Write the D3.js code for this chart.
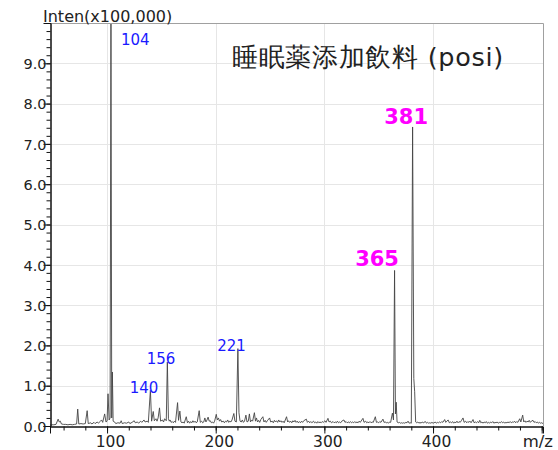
<!DOCTYPE html>
<html>
<head>
<meta charset="utf-8">
<script src="https://cdn.jsdelivr.net/npm/d3@7"></script>
<style>
  body { margin: 0; background: #fff; }
  text { font-family: "DejaVu Sans", Verdana, sans-serif; }
</style>
</head>
<body>
<script>
// profile of the spectrum, [m/z, intensity x100,000]
const spectrum = [
  [47.5,0.02],[49,0.03],[51,0.03],[53,0.04],[55,0.17],[56,0.1],[57,0.12],[58,0.05],[60,0.04],[62,0.04],
  [64,0.03],[66,0.04],[68,0.03],[70,0.04],[72,0.05],[73,0.42],[74,0.05],[76,0.06],[78,0.05],[80,0.06],
  [81.7,0.38],[82.7,0.06],[85,0.08],[86,0.05],[88,0.09],[89,0.06],[91,0.1],[92,0.07],[94,0.12],[95,0.15],
  [96,0.09],[97.8,0.3],[99,0.1],[100,0.12],[100.9,0.8],[101.9,0.15],[102.8,0.2],[103.6,10.4],[104.3,0.2],[104.9,1.34],
  [105.6,0.12],[107,0.1],[108,0.06],[110,0.08],[112,0.07],[113,0.13],[114,0.06],[116,0.08],[118,0.07],[120,0.1],
  [121,0.06],[123,0.09],[125,0.13],[126,0.08],[128,0.1],[129,0.07],[131,0.12],[132,0.09],[134,0.15],[135,0.1],
  [137,0.12],[138,0.09],[139.9,0.89],[141,0.12],[142.5,0.36],[143.5,0.13],[145,0.18],[146,0.12],[147,0.2],[148.3,0.45],
  [149.3,0.12],[151,0.15],[152,0.1],[153,0.18],[154.5,0.13],[155.5,1.59],[156.5,0.18],[157.3,0.12],[158,0.15],[159,0.09],
  [160,0.11],[161,0.08],[162,0.12],[163,0.09],[164.9,0.58],[165.8,0.14],[167,0.37],[168,0.1],[169,0.08],[170,0.1],
  [171,0.07],[172.9,0.23],[174,0.08],[175,0.12],[176,0.07],[177,0.11],[178,0.08],[179,0.13],[180,0.09],[181,0.12],
  [182,0.08],[183,0.1],[184.8,0.38],[185.8,0.09],[187,0.12],[188,0.08],[189,0.1],[190,0.2],[191,0.1],[192,0.15],
  [193,0.22],[194,0.12],[195,0.13],[196,0.08],[197,0.1],[198,0.07],[199,0.12],[200.5,0.29],[201.5,0.15],[202.5,0.2],
  [203.5,0.12],[204.5,0.16],[205.5,0.1],[207,0.12],[208,0.08],[209,0.12],[210,0.1],[211,0.15],[212,0.09],[213,0.12],
  [214,0.1],[215,0.15],[216.7,0.31],[217.7,0.12],[219,0.1],[220.4,1.92],[221.4,0.33],[222.4,0.12],[223.5,0.1],[224.5,0.15],
  [225.5,0.09],[226.5,0.12],[227.8,0.27],[228.8,0.1],[230,0.12],[231,0.3],[232,0.1],[233,0.15],[234,0.12],[235.6,0.33],
  [236.6,0.12],[237.5,0.2],[238.5,0.1],[239.5,0.14],[240.5,0.09],[241.5,0.16],[243.4,0.23],[244.4,0.1],[245.5,0.14],[246.5,0.09],
  [247.5,0.13],[249.6,0.2],[250.6,0.1],[252,0.12],[253,0.08],[254,0.14],[255,0.1],[256,0.13],[257,0.09],[258,0.15],
  [259,0.1],[260,0.13],[261,0.09],[262,0.12],[263,0.08],[265.2,0.23],[266.2,0.1],[267,0.13],[268,0.09],[269,0.12],
  [270,0.08],[271,0.13],[272,0.1],[273,0.14],[274,0.09],[275,0.12],[276,0.08],[277,0.11],[278,0.08],[279,0.12],
  [280,0.09],[281,0.13],[283.4,0.17],[284.4,0.09],[285.5,0.12],[286.5,0.08],[287.5,0.11],[288.5,0.08],[290,0.12],[291,0.08],
  [292,0.1],[293,0.07],[294,0.11],[295,0.08],[296,0.1],[297,0.08],[298,0.11],[299,0.09],[300.5,0.13],[301.5,0.09],
  [303.3,0.19],[304.3,0.1],[305.5,0.12],[306.5,0.08],[308,0.11],[309,0.08],[310,0.1],[311,0.08],[312,0.12],[313,0.08],
  [314,0.1],[315,0.08],[316,0.12],[318,0.15],[319,0.09],[320,0.11],[321,0.08],[322,0.1],[323,0.08],[324,0.11],
  [325,0.08],[326,0.1],[327,0.08],[328,0.11],[329,0.08],[330,0.1],[331,0.08],[332,0.12],[333,0.09],[335.5,0.19],
  [336.5,0.09],[338,0.12],[339,0.08],[340,0.1],[341,0.08],[342,0.11],[343,0.08],[344,0.1],[345,0.09],[346.9,0.23],
  [347.9,0.09],[349,0.1],[350,0.08],[351,0.11],[352,0.09],[353.9,0.17],[354.9,0.09],[356,0.1],[357,0.08],[358,0.09],
  [359,0.07],[360,0.1],[361,0.09],[362.6,0.32],[363.6,0.15],[364.6,3.86],[365.4,0.3],[366.1,0.59],[366.9,0.1],[368,0.08],
  [369,0.09],[370,0.07],[371,0.08],[372,0.07],[373,0.08],[374,0.07],[375,0.09],[376,0.08],[377,0.12],[378,0.07],
  [379,0.08],[380,0.07],[381.2,7.42],[382.3,1.18],[383.1,0.85],[384,0.1],[385,0.08],[386,0.1],[387,0.07],[388,0.09],
  [389,0.07],[390,0.1],[391,0.08],[393,0.11],[394,0.07],[395,0.09],[396,0.07],[397,0.08],[398,0.07],[399,0.09],
  [400,0.07],[401,0.08],[402,0.1],[403,0.07],[404,0.09],[405,0.08],[406,0.1],[407,0.08],[408,0.11],[409,0.09],
  [410.7,0.16],[411.7,0.09],[412.7,0.12],[413.9,0.15],[415,0.08],[416,0.1],[417,0.08],[418,0.11],[419,0.07],[420,0.1],
  [421,0.08],[422,0.12],[423,0.08],[424,0.11],[425,0.09],[426,0.13],[427.6,0.2],[428.6,0.09],[430,0.12],[431,0.08],
  [432,0.11],[433,0.09],[434,0.12],[435,0.08],[436.8,0.16],[437.8,0.08],[439,0.1],[440,0.08],[441,0.11],[442,0.08],
  [443,0.14],[444,0.08],[445,0.1],[446,0.07],[447,0.1],[448,0.08],[449,0.11],[450,0.07],[451,0.09],[452,0.07],
  [453,0.1],[454,0.08],[455,0.11],[456,0.07],[457,0.09],[458,0.08],[459,0.1],[460,0.07],[461,0.09],[462,0.08],
  [463,0.11],[464,0.08],[465,0.1],[466,0.07],[467,0.09],[468,0.08],[469,0.1],[470,0.08],[471,0.11],[472,0.08],
  [473,0.1],[474,0.09],[475,0.12],[476,0.08],[477,0.11],[478,0.09],[479.8,0.18],[480.8,0.1],[482.5,0.27],[483.5,0.1],
  [484.5,0.13],[485.5,0.09],[486.5,0.12],[487.5,0.1],[488.5,0.14],[489.5,0.09],[490.5,0.12],[492,0.14],[493,0.09],[494,0.11],
  [495,0.08],[496,0.1],[497,0.07],[498,0.09],[499,0.07],[500,0.08],[501.2,0.06]
];

// annotated peaks
const labelMz    = [103.6, 139.9, 155.5, 220.4, 364.6, 381.2];
const labelText  = ["104", "140", "156", "221", "365", "381"];
const labelMajor = [false, false, false, false, true, true];

const xMajor = [100, 200, 300, 400, 500];
const xMinor = d3.range(60, 501, 20);
const yMajor = d3.range(0, 10, 1);
const yMinor = d3.range(0, 9.9, 0.2);

const title = "睡眠薬添加飲料 (posi)";
const yTitle = "Inten(x100,000)";
const xTitle = "m/z";

const W = 558, H = 450;
const pLeft = 50, pRight = 543, pTop = 23, pBottom = 426;

let svg = d3.select("body").append("svg")
    .attr("width", W)
    .attr("height", H);

let x = d3.scaleLinear().domain([47.5, 501.2]).range([pLeft, pRight]);
let y = d3.scaleLinear().domain([0, 10]).range([pBottom, pTop]);

// grid
svg.append("g")
  .selectAll("line")
  .data(xMajor.filter(d => d < 500))
  .enter().append("line")
    .attr("x1", d => Math.round(x(d)) + 0.5).attr("x2", d => Math.round(x(d)) + 0.5)
    .attr("y1", pTop).attr("y2", pBottom)
    .attr("stroke", "#e6e6e6");

svg.append("g")
  .selectAll("line")
  .data(yMajor.filter(d => d > 0))
  .enter().append("line")
    .attr("x1", pLeft).attr("x2", pRight)
    .attr("y1", d => Math.round(y(d)) + 0.5).attr("y2", d => Math.round(y(d)) + 0.5)
    .attr("stroke", "#e6e6e6");

// frame (top / right grey)
svg.append("path")
  .attr("d", `M${pLeft},${pTop + 0.5}H${pRight + 0.5}V${pBottom}`)
  .attr("fill", "none")
  .attr("stroke", "#a0a0a0");

svg.append("clipPath").attr("id", "plot")
  .append("rect")
    .attr("x", pLeft).attr("y", pTop + 1)
    .attr("width", pRight - pLeft).attr("height", pBottom - pTop);

let line = d3.line()
    .x(d => x(d[0]))
    .y(d => y(d[1]));

svg.append("path")
  .datum(spectrum)
  .attr("clip-path", "url(#plot)")
  .attr("fill", "none")
  .attr("stroke", "#444")
  .attr("stroke-width", 0.9)
  .attr("d", line);

// axes
let fmt = d3.format(".1f");

let yAxis = svg.append("g")
    .attr("transform", `translate(${pLeft + 0.5},0)`)
    .call(d3.axisLeft(y).tickValues(yMajor).tickSize(7).tickFormat(fmt));
svg.append("g")
    .attr("transform", `translate(${pLeft + 0.5},0)`)
    .call(d3.axisLeft(y).tickValues(yMinor).tickSize(4).tickFormat(""));

let xAxis = svg.append("g")
    .attr("transform", `translate(0,${pBottom + 0.5})`)
    .call(d3.axisBottom(x).tickValues(xMajor).tickSize(7)
      .tickFormat(d => d === 500 ? "" : d));
svg.append("g")
    .attr("transform", `translate(0,${pBottom + 0.5})`)
    .call(d3.axisBottom(x).tickValues(xMinor).tickSize(4).tickFormat(""));

svg.selectAll(".domain").attr("stroke", "#111");
svg.selectAll(".tick line").attr("stroke", "#111");

yAxis.selectAll("text")
  .attr("x", -4)
  .attr("dy", "0.36em")
  .attr("font-size", 14.5)
  .attr("font-family", "DejaVu Sans")
  .attr("fill", "#222");

xAxis.selectAll("text")
  .attr("dx", 3)
  .attr("y", 9)
  .attr("dy", "0.71em")
  .attr("font-size", 15.5)
  .attr("font-family", "DejaVu Sans")
  .attr("fill", "#222");

svg.append("text")
  .attr("x", 43).attr("y", 22)
  .attr("font-size", 16)
  .attr("fill", "#222")
  .text(yTitle);

svg.append("text")
  .attr("x", 553).attr("y", 447)
  .attr("text-anchor", "end")
  .attr("font-size", 16.5)
  .attr("fill", "#222")
  .text(xTitle);

svg.append("text")
  .attr("x", 232).attr("y", 66)
  .attr("font-family", "'Noto Sans CJK JP', sans-serif")
  .attr("font-size", 25.5)
  .attr("letter-spacing", 0.7)
  .attr("fill", "#222")
  .text(title);

// peak labels; offsets picked to sit where the instrument software put them
const labelDx = [10, 8, 8, 8, -17.5, -6.5];
const labelDy = [0, 3, 2.5, 2, -4, -3];

let inten = new Map(spectrum.map(d => [d[0], d[1]]));

svg.append("g")
  .selectAll("text")
  .data(labelMz)
  .enter().append("text")
    .attr("x", (d, i) => x(d) + labelDx[i])
    .attr("y", (d, i) => i === 0 ? 45 : y(inten.get(d)) + labelDy[i])
    .attr("text-anchor", (d, i) => i === 0 ? "start" : (labelMajor[i] ? "middle" : "end"))
    .attr("font-size", (d, i) => labelMajor[i] ? 21 : 15)
    .attr("font-weight", (d, i) => labelMajor[i] ? "bold" : "normal")
    .attr("fill", (d, i) => labelMajor[i] ? "#ff00ff" : "#1a1aff")
    .text((d, i) => labelText[i]);
</script>
</body>
</html>
